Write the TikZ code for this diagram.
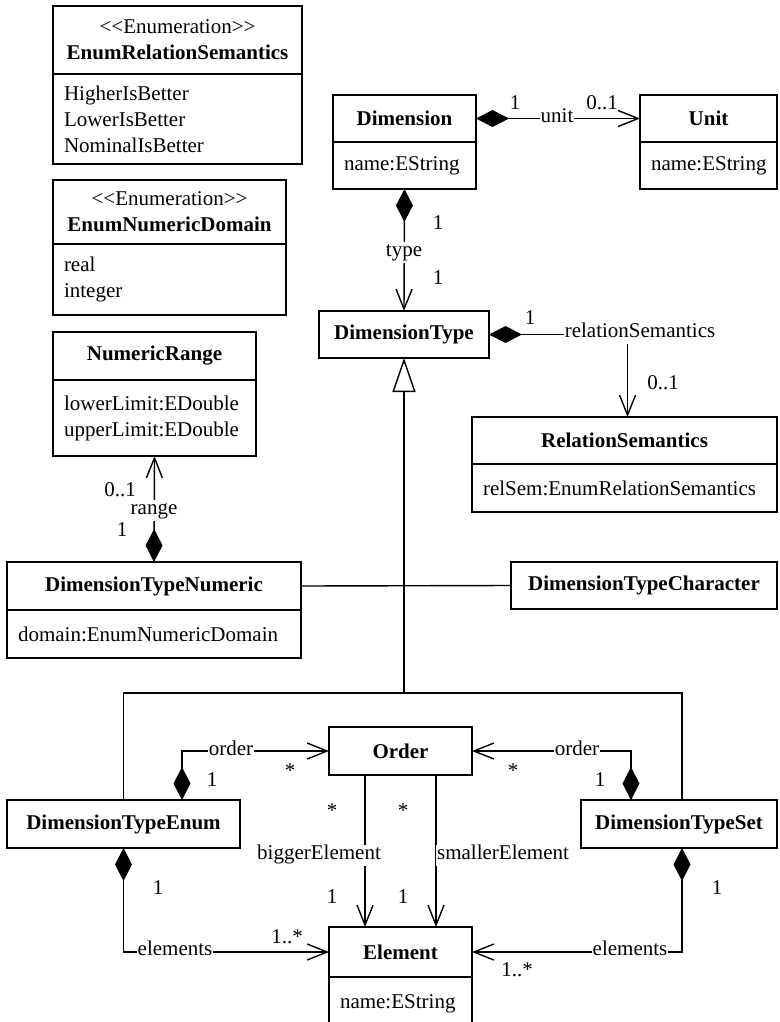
\documentclass[tikz,border=0pt]{standalone}
\usepackage{fontspec}
\setmainfont{Liberation Serif}
\usetikzlibrary{arrows.meta}
\begin{document}
\begin{tikzpicture}[x=1pt,y=-1pt,
  font=\fontsize{21}{26}\selectfont,
  base/.style={draw, line width=1.4pt, inner sep=0pt, outer sep=0pt, anchor=north west},
  hd/.style={base, align=center},
  attrbox/.style={base, align=left, inner xsep=11pt},
  ln/.style={line width=1.4pt},
  comp/.style={ln, {Diamond[length=33pt,width=17pt]}-{Straight Barb[length=20pt,width=16pt]}},
  assoc/.style={ln, -{Straight Barb[length=20pt,width=16pt]}},
  gen/.style={ln, -{Triangle[open,length=34pt,width=23pt]}},
  role/.style={fill=white, inner sep=1pt, text height=14pt, text depth=5pt},
  mult/.style={inner sep=0pt, text height=14pt, text depth=5pt}]
\useasboundingbox (0,0) rectangle (779,1022);

% enumeration / classes
\node[hd, minimum width=249pt, minimum height=68pt] (ers) at (53,6) {{<}{<}Enumeration{>}{>}\\\textbf{EnumRelationSemantics}};
\node[attrbox, text width=227pt, minimum height=90pt] (ersA) at (ers.south west) {HigherIsBetter\\LowerIsBetter\\NominalIsBetter};

\node[hd, minimum width=233pt, minimum height=64pt] (end) at (53,180) {{<}{<}Enumeration{>}{>}\\\textbf{EnumNumericDomain}};
\node[attrbox, text width=211pt, minimum height=71pt] (endA) at (end.south west) {real\\integer};

\node[hd, minimum width=203pt, minimum height=48pt] (nr) at (53,332) {\textbf{NumericRange}};
\node[attrbox, text width=181pt, minimum height=76pt] (nrA) at (nr.south west) {lowerLimit:EDouble\\upperLimit:EDouble};

\node[hd, minimum width=143pt, minimum height=47pt] (dim) at (333,95) {\textbf{Dimension}};
\node[attrbox, text width=121pt, minimum height=47pt] (dimA) at (dim.south west) {name:EString};

\node[hd, minimum width=137pt, minimum height=47pt] (unit) at (640,95) {\textbf{Unit}};
\node[attrbox, text width=115pt, minimum height=47pt] (unitA) at (unit.south west) {name:EString};

\node[hd, minimum width=170pt, minimum height=47pt] (dt) at (319,311) {\textbf{DimensionType}};

\node[hd, minimum width=305pt, minimum height=47pt] (rs) at (472,417) {\textbf{RelationSemantics}};
\node[attrbox, text width=283pt, minimum height=48pt] (rsA) at (rs.south west) {relSem:EnumRelationSemantics};

\node[hd, minimum width=294pt, minimum height=48pt] (dtn) at (7,562) {\textbf{DimensionTypeNumeric}};
\node[attrbox, text width=272pt, minimum height=48pt] (dtnA) at (dtn.south west) {domain:EnumNumericDomain};

\node[hd, minimum width=266pt, minimum height=47pt] (dtc) at (511,562) {\textbf{DimensionTypeCharacter}};

\node[hd, minimum width=233pt, minimum height=48pt] (dte) at (7,800) {\textbf{DimensionTypeEnum}};
\node[hd, minimum width=143pt, minimum height=48pt] (order) at (329,727) {\textbf{Order}};
\node[hd, minimum width=196pt, minimum height=48pt] (dts) at (581,800) {\textbf{DimensionTypeSet}};

\node[hd, minimum width=143pt, minimum height=50pt] (el) at (329,927) {\textbf{Element}};
\node[attrbox, text width=121pt, minimum height=54pt] (elA) at (el.south west) {name:EString};

% connectors
\draw[comp] (dim.east) -- (unit.west);
\draw[comp] (dimA.south) -- (dt.north);
\draw[comp] (dt.east) -| ([xshift=3pt]rs.north);
\draw[comp] (dtn.north) -- (nrA.south);

\coordinate (gj) at (dt.south |- 0,693);
\draw[gen] (gj) -- (dt.south);
\draw[ln] (dte.north) |- (gj) -| ([xshift=3pt]dts.north);
\draw[ln] (dtn.east) -- (dtc.west);

\draw[comp] ([xshift=58.5pt]dte.north) |- (order.west);
\draw[comp] ([xshift=-48pt]dts.north) |- (order.east);
\draw[assoc] ([xshift=-35.5pt]order.south) -- ([xshift=-35.5pt]el.north);
\draw[assoc] ([xshift=35.5pt]order.south) -- ([xshift=35.5pt]el.north);
\draw[comp] (dte.south) |- (el.west);
\draw[comp] ([xshift=3pt]dts.south) |- (el.east);

% role labels
\node[role] (rUnit) at (557,118) {unit};
\node[role] (rType) at (404,252) {type};
\node[role] (rRel) at (640,333) {relationSemantics};
\node[role] (rRange) at (154,510) {range};
\node[role] (rOrdL) at (231,751) {order};
\node[role] (rOrdR) at (577,751) {order};
\node[role] (rBig) at (319,855) {biggerElement};
\node[role] (rSmall) at (503,855) {smallerElement};
\node[role] (rElL) at (175,951) {elements};
\node[role] (rElR) at (630,951) {elements};

% multiplicities
\node[mult] (m1) at (515,105) {1};
\node[mult] (m2) at (602,105) {0..1};
\node[mult] (m3) at (438,225) {1};
\node[mult] (m4) at (438,280) {1};
\node[mult] (m5) at (530,320) {1};
\node[mult] (m6) at (663,385) {0..1};
\node[mult] (m7) at (120,492) {0..1};
\node[mult] (m8) at (122,532) {1};
\node[mult] (m9) at (290,773) {*};
\node[mult] (m10) at (212,782) {1};
\node[mult] (m11) at (513,773) {*};
\node[mult] (m12) at (600,782) {1};
\node[mult] (m13) at (332,813) {*};
\node[mult] (m14) at (403,813) {*};
\node[mult] (m15) at (332,899) {1};
\node[mult] (m16) at (403,899) {1};
\node[mult] (m17) at (158,890) {1};
\node[mult] (m18) at (287,939) {1..*};
\node[mult] (m19) at (717,890) {1};
\node[mult] (m20) at (517,972) {1..*};
\end{tikzpicture}
\end{document}
